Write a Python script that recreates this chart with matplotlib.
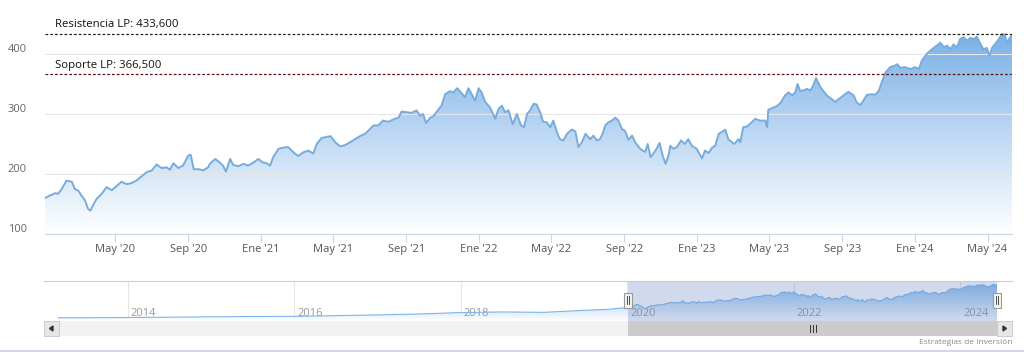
import numpy as np
import pandas as pd
import matplotlib
matplotlib.use("Agg")
import matplotlib.pyplot as plt
import matplotlib.dates as mdates
import matplotlib.transforms as mtrans
from matplotlib.patches import Rectangle, Polygon
from matplotlib.colors import LinearSegmentedColormap

plt.rcParams['font.family'] = ['Open Sans', 'DejaVu Sans']

# cotizacion (vista principal)
fechas = [
    '2020-01-05', '2020-01-13', '2020-01-22', '2020-01-27', '2020-02-02', '2020-02-10', '2020-02-19', '2020-02-24',
    '2020-03-01', '2020-03-06', '2020-03-12', '2020-03-17', '2020-03-21', '2020-03-25', '2020-03-31', '2020-04-09',
    '2020-04-17', '2020-04-26', '2020-05-04', '2020-05-12', '2020-05-21', '2020-05-29', '2020-06-06', '2020-06-12',
    '2020-06-23', '2020-07-02', '2020-07-10', '2020-07-18', '2020-07-27', '2020-08-01', '2020-08-07', '2020-08-15',
    '2020-08-23', '2020-09-01', '2020-09-05', '2020-09-10', '2020-09-18', '2020-09-26', '2020-10-04', '2020-10-07',
    '2020-10-16', '2020-10-24', '2020-10-29', '2020-11-03', '2020-11-10', '2020-11-15', '2020-11-24', '2020-12-02',
    '2020-12-10', '2020-12-19', '2020-12-27', '2021-01-04', '2021-01-10', '2021-01-16', '2021-01-21', '2021-01-30',
    '2021-02-07', '2021-02-15', '2021-02-24', '2021-03-04', '2021-03-12', '2021-03-21', '2021-03-29', '2021-04-04',
    '2021-04-12', '2021-04-21', '2021-04-27', '2021-05-05', '2021-05-13', '2021-05-21', '2021-05-30', '2021-06-07',
    '2021-06-15', '2021-06-24', '2021-07-01', '2021-07-08', '2021-07-16', '2021-07-24', '2021-08-02', '2021-08-10',
    '2021-08-19', '2021-08-24', '2021-09-02', '2021-09-10', '2021-09-18', '2021-09-24', '2021-09-29', '2021-10-04',
    '2021-10-11', '2021-10-16', '2021-10-25', '2021-10-30', '2021-11-05', '2021-11-13', '2021-11-19', '2021-11-25',
    '2021-12-03', '2021-12-08', '2021-12-14', '2021-12-20', '2021-12-25', '2021-12-31', '2022-01-05', '2022-01-11',
    '2022-01-19', '2022-01-28', '2022-02-02', '2022-02-08', '2022-02-13', '2022-02-19', '2022-02-26', '2022-03-05',
    '2022-03-12', '2022-03-17', '2022-03-22', '2022-03-27', '2022-04-02', '2022-04-07', '2022-04-13', '2022-04-18',
    '2022-04-24', '2022-04-30', '2022-05-05', '2022-05-11', '2022-05-16', '2022-05-22', '2022-05-28', '2022-06-05',
    '2022-06-11', '2022-06-16', '2022-06-22', '2022-06-28', '2022-07-06', '2022-07-11', '2022-07-17', '2022-07-22',
    '2022-07-27', '2022-07-31', '2022-08-05', '2022-08-11', '2022-08-17', '2022-08-22', '2022-08-28', '2022-09-02',
    '2022-09-08', '2022-09-14', '2022-09-19', '2022-09-25', '2022-09-30', '2022-10-06', '2022-10-10', '2022-10-15',
    '2022-10-21', '2022-10-25', '2022-10-30', '2022-11-04', '2022-11-09', '2022-11-14', '2022-11-17', '2022-11-22',
    '2022-11-28', '2022-12-05', '2022-12-11', '2022-12-17', '2022-12-23', '2022-12-31', '2023-01-09', '2023-01-14',
    '2023-01-20', '2023-01-26', '2023-01-31', '2023-02-06', '2023-02-11', '2023-02-17', '2023-02-22', '2023-02-28',
    '2023-03-04', '2023-03-11', '2023-03-14', '2023-03-19', '2023-03-25', '2023-04-01', '2023-04-08', '2023-04-16',
    '2023-04-25', '2023-04-28', '2023-04-30', '2023-05-09', '2023-05-14', '2023-05-20', '2023-05-28', '2023-06-03',
    '2023-06-09', '2023-06-14', '2023-06-18', '2023-06-22', '2023-06-28', '2023-07-04', '2023-07-09', '2023-07-14',
    '2023-07-19', '2023-07-25', '2023-07-29', '2023-08-06', '2023-08-14', '2023-08-20', '2023-08-26', '2023-09-03',
    '2023-09-11', '2023-09-20', '2023-09-25', '2023-10-01', '2023-10-06', '2023-10-12', '2023-10-21', '2023-10-26',
    '2023-11-01', '2023-11-06', '2023-11-12', '2023-11-20', '2023-11-29', '2023-12-02', '2023-12-07', '2023-12-15',
    '2023-12-24', '2024-01-01', '2024-01-07', '2024-01-12', '2024-01-21', '2024-01-29', '2024-02-06', '2024-02-12',
    '2024-02-18', '2024-02-23', '2024-02-29', '2024-03-05', '2024-03-11', '2024-03-16', '2024-03-22', '2024-03-28',
    '2024-04-02', '2024-04-08', '2024-04-13', '2024-04-19', '2024-04-24', '2024-04-30', '2024-05-04', '2024-05-09',
    '2024-05-14', '2024-05-20', '2024-05-25', '2024-05-29', '2024-06-03', '2024-06-08', '2024-06-11',
]
cierre = [
    160, 164, 168, 167, 175, 189, 187, 175,
    172, 164, 156, 142, 139, 147, 158, 167,
    178, 173, 180, 187, 183, 185, 189, 194,
    203, 206, 216, 210, 211, 207, 218, 210,
    214, 231, 232, 208, 208, 206, 211, 217,
    225, 219, 214, 204, 225, 215, 213, 217,
    214, 219, 225, 219, 218, 214, 228, 242,
    244, 245, 236, 230, 236, 239, 234, 250,
    260, 262, 263, 253, 246, 248, 253, 258,
    263, 267, 274, 281, 281, 289, 287, 291,
    294, 304, 303, 302, 306, 297, 300, 285,
    294, 296, 308, 314, 333, 338, 336, 343,
    334, 328, 343, 332, 322, 343, 336, 320,
    311, 292, 308, 314, 303, 306, 283, 300,
    281, 278, 300, 306, 317, 316, 303, 287,
    286, 278, 289, 270, 258, 256, 267, 274,
    271, 245, 253, 267, 258, 264, 256, 258,
    268, 281, 286, 289, 294, 289, 275, 272,
    257, 264, 253, 245, 240, 237, 250, 228,
    236, 242, 252, 231, 217, 231, 247, 242,
    245, 256, 250, 258, 247, 242, 226, 239,
    235, 244, 247, 267, 270, 274, 258, 253,
    250, 258, 253, 278, 279, 285, 292, 289,
    289, 278, 307, 311, 313, 318, 331, 336,
    331, 336, 350, 339, 339, 342, 339, 347,
    360, 347, 341, 331, 325, 320, 325, 331,
    337, 331, 319, 315, 322, 332, 333, 332,
    339, 353, 369, 378, 381, 383, 377, 378,
    375, 378, 375, 389, 401, 408, 414, 419,
    411, 414, 408, 416, 411, 425, 428, 422,
    427, 425, 429, 417, 408, 410, 397, 411,
    417, 425, 433, 433, 419, 428, 431,
]

# historico anterior, solo visible en el navegador
hist_fechas = ['2013-03-01', '2013-08-01', '2014-01-01', '2014-07-01', '2015-01-01', '2015-07-01',
               '2016-01-01', '2016-07-01', '2017-01-01', '2017-07-01', '2018-01-01', '2018-07-01',
               '2019-01-01', '2019-07-01', '2019-10-01', '2019-12-20']
hist_cierre = [28, 30, 32, 36, 40, 45, 46, 55, 64, 75, 92, 100, 95, 120, 130, 150]

resistencia = 433.6
soporte = 366.5
meses = ['Ene', 'Feb', 'Mar', 'Abr', 'May', 'Jun', 'Jul', 'Ago', 'Sep', 'Oct', 'Nov', 'Dic']

W, H = 1024, 362
fig = plt.figure(figsize=(W / 100, H / 100), dpi=100)


def caja(x0, y0, x1, y1):
    return [x0 / W, 1 - y1 / H, (x1 - x0) / W, (y1 - y0) / H]


def degradado(ax, x, y, y0, y1, color):
    cmap = LinearSegmentedColormap.from_list('g', ['#ffffff', color])
    grad = np.linspace(0, 1, 256).reshape(-1, 1)
    im = ax.imshow(grad, cmap=cmap, aspect='auto', origin='lower',
                   extent=[x[0], x[-1], y0, y1], zorder=1, interpolation='bilinear')
    verts = np.column_stack([np.r_[x[0], x, x[-1]], np.r_[y0, y, y0]])
    poly = Polygon(verts, closed=True, facecolor='none', edgecolor='none')
    ax.add_patch(poly)
    im.set_clip_path(poly)


# ---- grafico principal
ax = fig.add_axes(caja(45, 24, 1012, 234))
x = mdates.date2num(pd.to_datetime(fechas))
y = np.array(cierre, dtype=float)
degradado(ax, x, y, 100, 450, '#74ade6')
ax.plot(x, y, color='#78acdc', lw=1.4, zorder=3)
ax.set_xlim(x[0], x[-1])
ax.set_ylim(100, 450)
ax.set_yticks([100, 200, 300, 400])
ax.grid(axis='y', color='#e6e6e6', lw=0.8, zorder=0)
for s in ['top', 'right', 'left']:
    ax.spines[s].set_visible(False)
ax.spines['bottom'].set_color('#ccd6eb')
ax.xaxis.set_major_locator(mdates.MonthLocator(bymonth=[1, 5, 9]))
ax.xaxis.set_major_formatter(plt.FuncFormatter(
    lambda v, p: f"{meses[mdates.num2date(v).month - 1]} '{mdates.num2date(v):%y}"))
ax.tick_params(axis='x', length=6, color='#ccd6eb', labelsize=8, labelcolor='#555555', pad=1.5)
ax.tick_params(axis='y', length=0, labelsize=8, labelcolor='#666666', pad=13)
sube = mtrans.ScaledTranslation(0, 6 / 100, fig.dpi_scale_trans)
for lab in ax.get_yticklabels():
    lab.set_transform(lab.get_transform() + sube)

for nivel, txt, col in [(resistencia, 'Resistencia LP: 433,600', '#222222'),
                        (soporte, 'Soporte LP: 366,500', '#5c1414')]:
    ax.axhline(nivel, color=col, lw=0.9, ls=(0, (2.2, 1.6)), zorder=4)
    ax.annotate(txt, xy=(0, nivel), xycoords=('axes fraction', 'data'),
                xytext=(7.5, 2.5), textcoords='offset points', fontsize=8.2,
                color='#111111', va='bottom', ha='left', zorder=5)

# ---- navegador
axn = fig.add_axes(caja(58, 281, 997, 321))
xn = np.r_[mdates.date2num(pd.to_datetime(hist_fechas)), x]
yn = np.r_[np.array(hist_cierre, dtype=float), y]
degradado(axn, xn, yn, -10, 475, '#7cb5ec')
axn.plot(xn, yn, color='#7cb5ec', lw=0.8, zorder=3)
axn.set_xlim(xn[0], xn[-1])
axn.set_ylim(-10, 475)
axn.axis('off')
lab_tr = mtrans.blended_transform_factory(axn.transData, axn.transAxes) + \
    mtrans.ScaledTranslation(3 / 100, 0, fig.dpi_scale_trans)
for t in mdates.YearLocator(2).tick_values(mdates.num2date(xn[0]), mdates.num2date(xn[-1])):
    if xn[0] < t < xn[-1]:
        axn.axvline(t, color='#e6e6e6', lw=0.8, zorder=0)
        axn.text(t, 0.2, mdates.num2date(t).strftime('%Y'), transform=lab_tr,
                 fontsize=8, color='#999999', ha='left', va='center', zorder=2)
axn.axvspan(x[0], x[-1], color=(102 / 255, 133 / 255, 194 / 255, 0.3), lw=0, zorder=4)

fig.canvas.draw()
px0 = axn.transData.transform((x[0], 0))[0]
px1 = axn.transData.transform((x[-1], 0))[0]

# ---- controles (marco, barra de desplazamiento, asas)
ov = fig.add_axes([0, 0, 1, 1], facecolor='none')
ov.set_xlim(0, W)
ov.set_ylim(H, 0)
ov.axis('off')
ov.plot([44, 1012], [281, 281], color='#cccccc', lw=0.8)
ov.add_patch(Rectangle((44, 321), 968, 15, facecolor='#f2f2f2', edgecolor='none'))
ov.add_patch(Rectangle((px0, 321), px1 - px0, 15, facecolor='#cccccc', edgecolor='none'))
cx = (px0 + px1) / 2
for dx in (-3, 0, 3):
    ov.plot([cx + dx, cx + dx], [325, 332], color='#333333', lw=0.7)
for bx in (44, 997):
    ov.add_patch(Rectangle((bx, 321), 15, 15, facecolor='#e6e6e6', edgecolor='#cccccc', lw=0.7))
ov.add_patch(Polygon([[53, 326], [53, 331], [49.5, 328.5]], color='#333333'))
ov.add_patch(Polygon([[1003, 326], [1003, 331], [1006.5, 328.5]], color='#333333'))
for hx in (px0, px1):
    ov.add_patch(Rectangle((hx - 4, 292.5), 8, 15, facecolor='#f2f2f2', edgecolor='#999999', lw=0.8, zorder=5))
    for dx in (-1.3, 1.3):
        ov.plot([hx + dx, hx + dx], [296, 304], color='#333333', lw=0.6, zorder=6)

ov.text(1012, 342, 'Estrategias de Inversión', fontsize=6, color='#888888', ha='right', va='center')
ov.plot([0, W], [350.5, 350.5], color='#d4d4e4', lw=1.5)

fig.savefig('out.png', dpi=100)
